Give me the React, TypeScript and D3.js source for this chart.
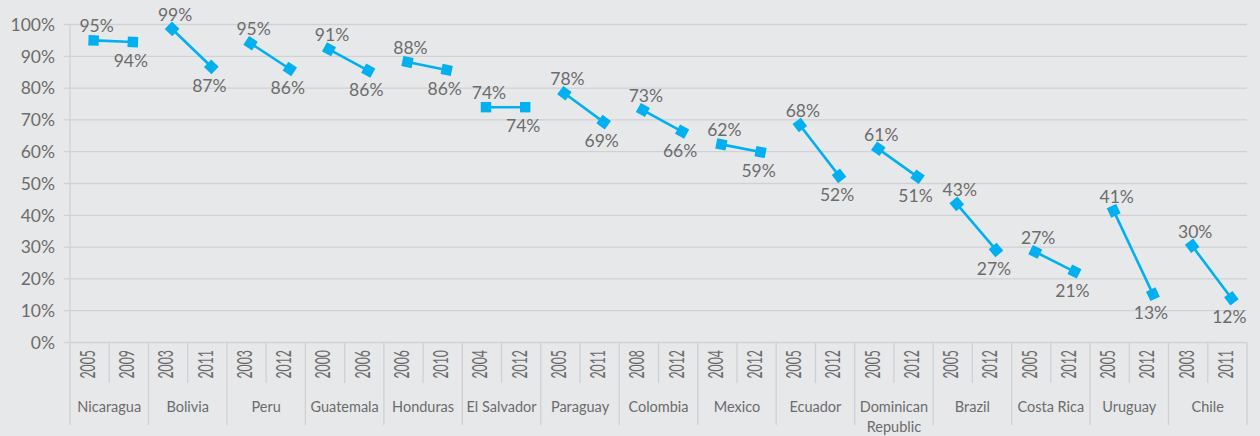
import React from 'react'
import * as d3 from 'd3'

const countries = [
  'Nicaragua', 'Bolivia', 'Peru', 'Guatemala', 'Honduras', 'El Salvador', 'Paraguay', 'Colombia',
  'Mexico', 'Ecuador', 'Dominican Republic', 'Brazil', 'Costa Rica', 'Uruguay', 'Chile'
]
const years = [
  '2005', '2009', '2003', '2011', '2003', '2012', '2000', '2006', '2006', '2010',
  '2004', '2012', '2005', '2011', '2008', '2012', '2004', '2012', '2005', '2012',
  '2005', '2012', '2005', '2012', '2005', '2012', '2005', '2012', '2003', '2011'
]
// plotted values
const values = [
  95.0, 94.5, 98.6, 86.7, 94.1, 86.0, 92.2, 85.5, 88.2, 85.7,
  74.0, 74.0, 78.4, 69.3, 73.1, 66.3, 62.3, 59.9, 68.4, 52.4,
  60.9, 52.1, 43.6, 29.1, 28.5, 22.3, 41.4, 15.2, 30.4, 13.9
]
// data labels as printed on the chart
const labels = [
  '95%', '94%', '99%', '87%', '95%', '86%', '91%', '86%', '88%', '86%',
  '74%', '74%', '78%', '69%', '73%', '66%', '62%', '59%', '68%', '52%',
  '61%', '51%', '43%', '27%', '27%', '21%', '41%', '13%', '30%', '12%'
]
const yTicks = [0, 10, 20, 30, 40, 50, 60, 70, 80, 90, 100]

const W = 1260
const H = 436
const font = 'Lato, "Open Sans", sans-serif'
const grey = '#6c6c6c'
const gridColor = '#d0d1d3'
const blue = '#00b0f0'

const App = () => {
  const left = 70
  const right = 1247
  const top = 24.5
  const bottom = 342.5

  const idx = d3.range(values.length)
  const x = d3.scaleBand<number>().domain(idx).range([left, right])
  const y = d3.scaleLinear().domain([0, 100]).range([bottom, top])
  const groupW = x.bandwidth() * 2
  const cx = (i) => x(i) + x.bandwidth() / 2 + 4

  const line = d3
    .line<number>()
    .x((i) => cx(i))
    .y((i) => y(values[i]))

  const splitName = (name) => (name.length > 14 ? name.split(' ') : [name])

  return (
    <svg
      width={W}
      height={H}
      style={{ position: 'absolute', left: 0, top: 0, display: 'block' }}
    >
      <rect width={W} height={H} fill="#e7e8ea" />

      {/* grid + y axis */}
      {yTicks.map((t) => (
        <g key={t}>
          <line x1={left - 6} x2={right} y1={y(t)} y2={y(t)} stroke={gridColor} strokeWidth={1.3} />
          <text
            x={55}
            y={y(t)}
            dy="0.36em"
            textAnchor="end"
            fontFamily={font}
            fontSize={17.5}
            fill={grey}
          >
            {t}%
          </text>
        </g>
      ))}
      <line x1={left} x2={left} y1={top} y2={bottom} stroke={gridColor} strokeWidth={1.3} />

      {/* category axis */}
      {idx.map((i) => {
        const outer = i % 2 === 0
        const xx = x(i)
        return (
          <line
            key={'tk' + i}
            x1={xx}
            x2={xx}
            y1={bottom}
            y2={outer ? 425 : 383}
            stroke={gridColor}
            strokeWidth={1.3}
          />
        )
      })}
      <line x1={right} x2={right} y1={bottom} y2={425} stroke={gridColor} strokeWidth={1.3} />

      {years.map((yr, i) => (
        <text
          key={'yr' + i}
          transform={`translate(${x(i) + x.bandwidth() / 2 - 2},350) rotate(-90) scale(0.6,1)`}
          dy="0.36em"
          textAnchor="end"
          fontFamily={font}
          fontSize={20.5}
          fill={grey}
        >
          {yr}
        </text>
      ))}

      {countries.map((c, k) => {
        const gx = x(k * 2) + groupW / 2
        const parts = splitName(c)
        return (
          <text key={c} x={gx} y={412} textAnchor="middle" fontFamily={font} fontSize={14.5} fill={grey}>
            {parts.map((p, j) => (
              <tspan key={j} x={gx} dy={j === 0 ? 0 : 19.5}>
                {p}
              </tspan>
            ))}
          </text>
        )
      })}

      {/* series */}
      {countries.map((c, k) => {
        const a = k * 2
        const b = a + 1
        const ang =
          (Math.atan2(y(values[b]) - y(values[a]), cx(b) - cx(a)) * 180) / Math.PI
        return (
          <g key={'s' + c}>
            <path d={line([a, b])} fill="none" stroke={blue} strokeWidth={2.6} />
            {[a, b].map((i) => (
              <rect
                key={i}
                x={-5.2}
                y={-5.2}
                width={10.4}
                height={10.4}
                fill={blue}
                transform={`translate(${cx(i)},${y(values[i])}) rotate(${ang})`}
              />
            ))}
            <text
              x={cx(a) + 3}
              y={y(values[a]) - 8}
              textAnchor="middle"
              fontFamily={font}
              fontSize={17.5}
              fill={grey}
            >
              {labels[a]}
            </text>
            <text
              x={cx(b) - 2}
              y={y(values[b]) + 25}
              textAnchor="middle"
              fontFamily={font}
              fontSize={17.5}
              fill={grey}
            >
              {labels[b]}
            </text>
          </g>
        )
      })}
    </svg>
  )
}

export default App
